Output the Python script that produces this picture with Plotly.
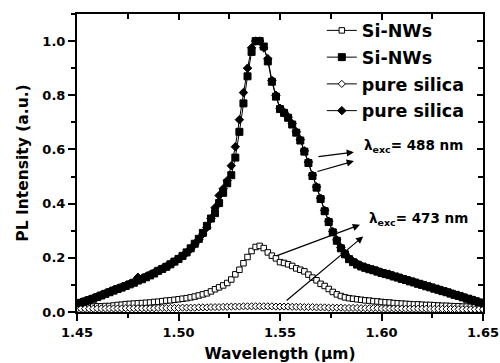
import plotly.graph_objects as go

# Wavelength grid (um), sampling step 0.002
wavelength = [round(1.45 + 0.002 * i, 4) for i in range(101)]

# Si-NWs, lambda_exc = 473 nm (open squares)
si_nws_473 = [
    0.017, 0.018, 0.019, 0.019, 0.020, 0.021, 0.021, 0.022, 0.022, 0.024,
    0.026, 0.027, 0.029, 0.030, 0.031, 0.032, 0.033, 0.034, 0.035, 0.037,
    0.038, 0.040, 0.042, 0.043, 0.045, 0.047, 0.049, 0.051, 0.054, 0.057,
    0.061, 0.065, 0.069, 0.076, 0.084, 0.091, 0.098, 0.107, 0.120, 0.139,
    0.156, 0.180, 0.203, 0.225, 0.240, 0.244, 0.236, 0.220, 0.208, 0.198,
    0.184, 0.181, 0.176, 0.170, 0.161, 0.156, 0.150, 0.138, 0.127, 0.117,
    0.104, 0.096, 0.085, 0.074, 0.065, 0.059, 0.054, 0.051, 0.049, 0.047,
    0.045, 0.043, 0.042, 0.040, 0.039, 0.037, 0.036, 0.035, 0.033, 0.032,
    0.031, 0.030, 0.029, 0.028, 0.028, 0.027, 0.026, 0.026, 0.025, 0.024,
    0.023, 0.023, 0.022, 0.021, 0.021, 0.020, 0.020, 0.019, 0.018, 0.018,
    0.017,
]

# Si-NWs, lambda_exc = 488 nm (filled squares)
si_nws_488 = [
    0.030, 0.034, 0.039, 0.044, 0.049, 0.055, 0.061, 0.067, 0.073, 0.079,
    0.085, 0.090, 0.096, 0.102, 0.108, 0.116, 0.121, 0.128, 0.135, 0.142,
    0.152, 0.159, 0.167, 0.176, 0.186, 0.196, 0.207, 0.220, 0.235, 0.252,
    0.270, 0.292, 0.318, 0.345, 0.365, 0.402, 0.440, 0.475, 0.505, 0.570,
    0.665, 0.770, 0.870, 0.960, 1.000, 1.000, 0.980, 0.925, 0.850, 0.795,
    0.749, 0.735, 0.717, 0.692, 0.662, 0.633, 0.592, 0.550, 0.502, 0.459,
    0.417, 0.372, 0.332, 0.294, 0.263, 0.235, 0.213, 0.195, 0.184, 0.175,
    0.168, 0.163, 0.158, 0.154, 0.149, 0.144, 0.140, 0.136, 0.131, 0.127,
    0.122, 0.118, 0.113, 0.109, 0.104, 0.100, 0.095, 0.091, 0.086, 0.082,
    0.077, 0.073, 0.068, 0.063, 0.059, 0.054, 0.049, 0.045, 0.040, 0.035,
    0.030,
]

# pure silica, lambda_exc = 473 nm (open diamonds)
silica_473 = [
    0.012, 0.012, 0.012, 0.012, 0.012, 0.013, 0.013, 0.013, 0.013, 0.013,
    0.013, 0.013, 0.014, 0.014, 0.014, 0.014, 0.014, 0.014, 0.014, 0.014,
    0.015, 0.015, 0.015, 0.015, 0.015, 0.015, 0.016, 0.016, 0.016, 0.016,
    0.017, 0.017, 0.017, 0.018, 0.018, 0.018, 0.019, 0.019, 0.020, 0.020,
    0.020, 0.021, 0.021, 0.021, 0.021, 0.021, 0.021, 0.021, 0.021, 0.020,
    0.020, 0.020, 0.020, 0.019, 0.019, 0.019, 0.018, 0.018, 0.018, 0.017,
    0.017, 0.017, 0.016, 0.016, 0.016, 0.016, 0.015, 0.015, 0.015, 0.015,
    0.014, 0.014, 0.014, 0.014, 0.014, 0.013, 0.013, 0.013, 0.013, 0.013,
    0.013, 0.012, 0.012, 0.012, 0.012, 0.012, 0.012, 0.011, 0.011, 0.011,
    0.011, 0.011, 0.011, 0.011, 0.010, 0.010, 0.010, 0.010, 0.010, 0.010,
    0.010,
]

# pure silica, lambda_exc = 488 nm (filled diamonds)
silica_488 = [
    0.032, 0.036, 0.041, 0.046, 0.051, 0.057, 0.063, 0.069, 0.075, 0.081,
    0.087, 0.092, 0.098, 0.104, 0.110, 0.128, 0.124, 0.131, 0.138, 0.145,
    0.152, 0.160, 0.168, 0.177, 0.186, 0.196, 0.207, 0.219, 0.233, 0.250,
    0.268, 0.288, 0.312, 0.345, 0.385, 0.430, 0.455, 0.485, 0.540, 0.610,
    0.710, 0.810, 0.900, 0.975, 1.000, 1.000, 0.975, 0.935, 0.855, 0.800,
    0.752, 0.738, 0.720, 0.695, 0.665, 0.636, 0.595, 0.553, 0.505, 0.462,
    0.420, 0.375, 0.335, 0.297, 0.266, 0.238, 0.216, 0.198, 0.187, 0.178,
    0.171, 0.166, 0.161, 0.157, 0.152, 0.147, 0.143, 0.139, 0.134, 0.130,
    0.125, 0.121, 0.116, 0.112, 0.107, 0.103, 0.098, 0.094, 0.089, 0.085,
    0.080, 0.076, 0.071, 0.066, 0.062, 0.057, 0.052, 0.048, 0.043, 0.038,
    0.033,
]

legend_names = ["Si-NWs", "Si-NWs", "pure silica", "pure silica"]
x_ticks = [1.45, 1.50, 1.55, 1.60, 1.65]
y_ticks = [0.0, 0.2, 0.4, 0.6, 0.8, 1.0]

FONT = "DejaVu Sans"
fig = go.Figure()

series = [
    (si_nws_473, "square", 5.5, "white"),
    (si_nws_488, "square", 7, "black"),
    (silica_473, "diamond", 5.5, "white"),
    (silica_488, "diamond", 6.5, "black"),
]
for i, ((vals, sym, size, fill), name) in enumerate(zip(series, legend_names)):
    fig.add_trace(go.Scatter(
        x=wavelength, y=vals, mode="lines+markers", name=name,
        legendgroup=f"g{i}",
        line=dict(color="black", width=1),
        marker=dict(symbol=sym, size=size, color=fill,
                    line=dict(color="black", width=1)),
    ))

# dummy trace for mirrored (inside-tick) top/right axes
fig.add_trace(go.Scatter(x=[None], y=[None], xaxis="x2", yaxis="y2",
                         showlegend=False, hoverinfo="skip"))

tickfont = dict(family=FONT, size=13, color="black", weight="bold")
titlefont = dict(family=FONT, size=15.5, color="black", weight="bold")

fig.update_layout(
    width=500, height=363,
    margin=dict(l=77, r=17, t=14, b=51),
    paper_bgcolor="white", plot_bgcolor="white",
    font=dict(family=FONT, color="black"),
    xaxis=dict(range=[1.45, 1.65], tickvals=x_ticks, automargin=False,
               ticktext=[f"{v:.2f}" for v in x_ticks],
               ticks="outside", ticklen=7, tickwidth=2, tickcolor="black",
               showline=True, linewidth=2, linecolor="black",
               showgrid=False, zeroline=False, tickfont=tickfont,
               minor=dict(dtick=0.025, tick0=1.45, ticks="outside", ticklen=4,
                          tickwidth=1.5, tickcolor="black", showgrid=False),
               title=dict(text="Wavelength (μm)", font=titlefont, standoff=18)),
    yaxis=dict(range=[0, 1.1], tickvals=y_ticks, automargin=False,
               ticktext=[f"{v:.1f}" for v in y_ticks],
               ticks="outside", ticklen=7, tickwidth=2, tickcolor="black",
               showline=True, linewidth=2, linecolor="black",
               showgrid=False, zeroline=False, tickfont=tickfont,
               minor=dict(dtick=0.1, tick0=0, ticks="outside", ticklen=4,
                          tickwidth=1.5, tickcolor="black", showgrid=False),
               title=dict(text="PL Intensity (a.u.)", font=titlefont, standoff=10)),
    xaxis2=dict(range=[1.45, 1.65], overlaying="x", side="top", automargin=False,
                tickvals=x_ticks, showticklabels=False,
                ticks="inside", ticklen=6, tickwidth=2, tickcolor="black",
                showline=True, linewidth=2, linecolor="black",
                showgrid=False, zeroline=False,
                minor=dict(dtick=0.025, tick0=1.45, ticks="inside", ticklen=5,
                           tickwidth=1.5, tickcolor="black", showgrid=False)),
    yaxis2=dict(range=[0, 1.1], overlaying="y", side="right", automargin=False,
                tickvals=y_ticks, showticklabels=False,
                ticks="inside", ticklen=6, tickwidth=2, tickcolor="black",
                showline=True, linewidth=2, linecolor="black",
                showgrid=False, zeroline=False,
                minor=dict(dtick=0.1, tick0=0, ticks="inside", ticklen=5,
                           tickwidth=1.5, tickcolor="black", showgrid=False)),
    legend=dict(x=0.603, y=1.005, xanchor="left", yanchor="top",
                bgcolor="rgba(0,0,0,0)", tracegroupgap=1,
                font=dict(family=FONT, size=17.5, color="black", weight="bold")),
)

ann_font = dict(family=FONT, size=13.5, color="black", weight="bold")
fig.add_annotation(x=1.5903, y=0.611, xref="x", yref="y", xanchor="left",
                   yanchor="middle", showarrow=False,
                   text="λ<sub>exc</sub>= 488 nm", font=ann_font)
fig.add_annotation(x=1.5927, y=0.345, xref="x", yref="y", xanchor="left",
                   yanchor="middle", showarrow=False,
                   text="λ<sub>exc</sub>= 473 nm", font=ann_font)

arrows = [
    ((1.5682, 0.573), (1.5864, 0.590)),
    ((1.5677, 0.517), (1.5864, 0.557)),
    ((1.5475, 0.205), (1.5894, 0.322)),
    ((1.5525, 0.038), (1.5910, 0.279)),
]
for (tx, ty), (hx, hy) in arrows:
    fig.add_annotation(x=hx, y=hy, ax=tx, ay=ty, xref="x", yref="y",
                       axref="x", ayref="y", text="", showarrow=True,
                       arrowhead=2, arrowsize=1.2, arrowwidth=1.2,
                       arrowcolor="black", standoff=0, startstandoff=0)

fig.write_html("out.html")
